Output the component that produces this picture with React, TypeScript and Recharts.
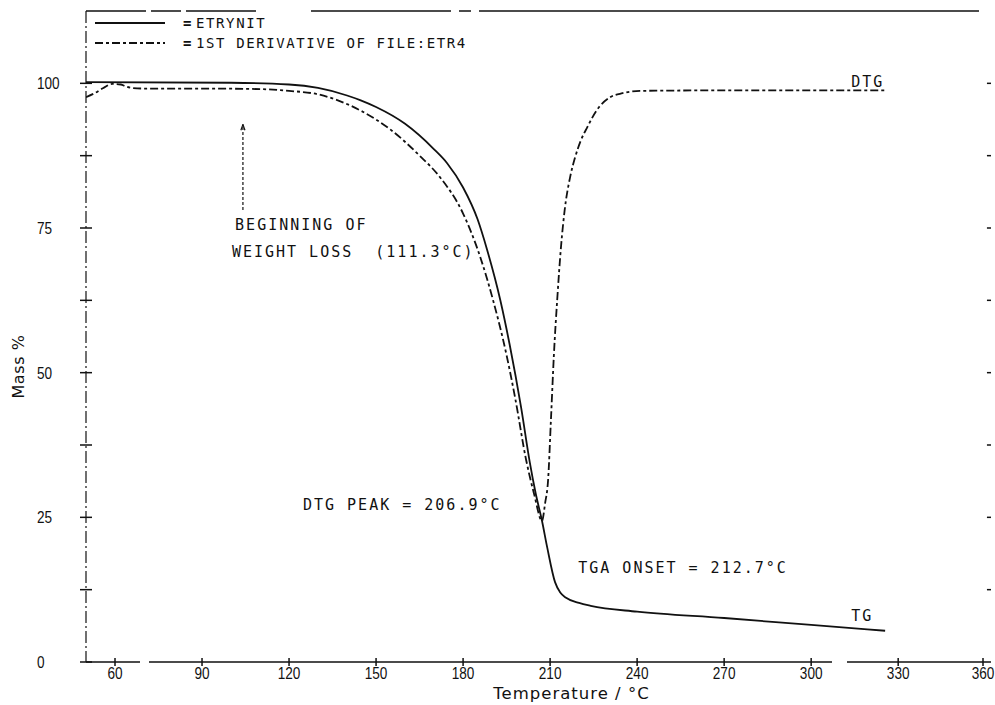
import React from 'react';
import { ComposedChart, Line, Scatter, XAxis, YAxis, ReferenceLine, Legend } from 'recharts';

// TG curve (solid) — temperature (°C) and mass (%)
const tgTemp = [50, 100, 120, 130, 140, 144.5, 150, 160, 170, 174.5, 180, 185, 188.3, 192.8, 196, 200, 203, 205, 207.2, 209, 211.7, 213.5, 215.5, 220, 224, 240, 270, 300, 325.5];
const tgMass = [100.2, 100.1, 99.8, 99.2, 97.9, 97.1, 95.9, 93.0, 88.6, 86.2, 82.0, 76.5, 71.2, 62.6, 55.0, 44.0, 34.5, 29.2, 24.4, 19.8, 13.8, 12.0, 11.1, 10.2, 9.7, 8.7, 7.6, 6.4, 5.4];

// DTG curve (dash-dot) — temperature (°C) and plotted value
const dtgTemp = [50, 53, 56, 59, 62, 64, 66, 70, 90, 110, 120, 130, 136.6, 145, 155, 165, 172, 180, 185.9, 190.3, 195, 198, 201.7, 204.5, 207.2, 208.3, 209.3, 210.3, 211.3, 212.5, 213.8, 215, 216.9, 218.5, 220.5, 222.8, 226, 230.7, 235, 241, 280, 325.5];
const dtgMass = [97.6, 98.3, 99.2, 99.9, 99.8, 99.4, 99.2, 99.1, 99.1, 99.0, 98.7, 98.1, 97.1, 95.2, 92.0, 87.5, 83.8, 77.5, 70.0, 62.6, 53.0, 45.5, 35.0, 29.0, 24.4, 27.5, 31.4, 42.0, 53.0, 63.0, 72.0, 78.0, 83.8, 87.0, 90.0, 92.4, 95.3, 97.6, 98.3, 98.7, 98.8, 98.8];

const seriesNames = ['ETRYNIT', '1ST DERIVATIVE OF FILE:ETR4'];
const seriesDash: (string | undefined)[] = [undefined, '8 3 3 3'];

const xTicks = [60, 90, 120, 150, 180, 210, 240, 270, 300, 330, 360];
const yTicks = [0, 12.5, 25, 37.5, 50, 62.5, 75, 87.5, 100];
const yLabelled = [0, 25, 50, 75, 100];
const rightTicks = [12.5, 25, 37.5, 50, 62.5, 75, 87.5, 100];

// annotations: text, anchor temperature, anchor value (text start / baseline)
const noteText = ['BEGINNING OF', 'WEIGHT LOSS  (111.3°C)', 'DTG PEAK = 206.9°C', 'TGA ONSET = 212.7°C', 'DTG', 'TG'];
const noteTemp = [101.4, 100.3, 124.8, 219.7, 313.8, 313.8];
const noteMass = [74.6, 70.0, 26.2, 15.3, 99.4, 7.0];

// arrow of "beginning of weight loss"
const arrowTemp = 104.1;
const arrowFrom = 78.1;
const arrowTo = 92.9;

const tgData = tgTemp.map((t, i) => ({ t, v: tgMass[i] }));
const dtgData = dtgTemp.map((t, i) => ({ t, v: dtgMass[i] }));
const notes = noteText.map((label, i) => ({ t: noteTemp[i], v: noteMass[i], label }));

const INK = '#111';
const MONO = "'DejaVu Sans Mono', monospace";
const NUMFONT = "'Liberation Sans', Arial, sans-serif";

const XTick = (props: any) => {
  const { x, y, payload } = props;
  return (
    <g>
      <line x1={x} x2={x} y1={y - 4} y2={y + 4} stroke={INK} strokeWidth={1.5} />
      <text
        transform={`translate(${x},${y + 17}) scale(0.8,1)`}
        textAnchor="middle"
        fontFamily={NUMFONT}
        fontSize={17}
        fill={INK}
      >
        {payload.value}
      </text>
    </g>
  );
};

const YTick = (props: any) => {
  const { x, y, payload } = props;
  const show = yLabelled.includes(payload.value);
  return (
    <g>
      <line x1={x - 6} x2={x + 6} y1={y} y2={y} stroke={INK} strokeWidth={1.5} />
      {show && (
        <text
          transform={`translate(${x - 49},${y + 6}) scale(0.8,1)`}
          textAnchor="start"
          fontFamily={NUMFONT}
          fontSize={17}
          fill={INK}
        >
          {payload.value}
        </text>
      )}
    </g>
  );
};

const NoteShape = (props: any) => {
  const { cx, cy, payload } = props;
  return (
    <text
      x={cx}
      y={cy}
      fontFamily={MONO}
      fontSize={15}
      fill={INK}
      style={{ letterSpacing: '2px', whiteSpace: 'pre' }}
    >
      {payload.label}
    </text>
  );
};

const MassLabel = (props: any) => {
  const vb = props.viewBox;
  return (
    <text
      transform={`translate(${vb.x + 24},${vb.y + vb.height / 2 + 30}) rotate(-90)`}
      textAnchor="middle"
      fontFamily="'DejaVu Sans', sans-serif"
      fontSize={16}
      fill={INK}
      style={{ letterSpacing: '0.6px' }}
    >
      Mass %
    </text>
  );
};

const TempLabel = (props: any) => {
  const vb = props.viewBox;
  return (
    <text
      x={vb.x + vb.width / 2 + 33}
      y={vb.y + 37}
      textAnchor="middle"
      fontFamily="'DejaVu Sans', sans-serif"
      fontSize={16.5}
      fill={INK}
      style={{ letterSpacing: '1px' }}
    >
      Temperature / °C
    </text>
  );
};

const renderLegend = (props: any) => {
  const payload = props.payload || [];
  const rows = seriesNames
    .map((name, i) => ({ name, dash: seriesDash[i], entry: payload.find((p: any) => p.value === name) }))
    .filter((r) => r.entry);
  return (
    <div style={{ fontFamily: MONO, fontSize: 14, letterSpacing: '1.6px', color: INK }}>
      {rows.map((r) => (
        <div key={r.name} style={{ display: 'flex', alignItems: 'center', height: 20 }}>
          <svg width={70} height={20} style={{ display: 'block' }}>
            <line x1={0} x2={70} y1={10} y2={10} stroke={INK} strokeWidth={1.8} strokeDasharray={r.dash} />
          </svg>
          <span style={{ marginLeft: 18, lineHeight: '20px', fontWeight: 'bold' }}>=</span>
          <span style={{ marginLeft: 3, whiteSpace: 'pre', lineHeight: '20px' }}>{r.name}</span>
        </div>
      ))}
    </div>
  );
};

export default function App() {
  return (
    <div style={{ position: 'absolute', left: 0, top: 0, width: 995, height: 705, background: '#fff' }}>
      <ComposedChart width={995} height={705} margin={{ top: 11, right: 4, bottom: 0, left: 0 }}>
        <XAxis
          type="number"
          dataKey="t"
          domain={[50, 362]}
          ticks={xTicks}
          allowDataOverflow
          height={43}
          tickSize={0}
          tickMargin={0}
          tickLine={false}
          tick={<XTick />}
          axisLine={{ stroke: INK, strokeWidth: 1.6, strokeDasharray: '54 9 683 15 400' }}
          label={TempLabel}
        />
        <YAxis
          type="number"
          dataKey="v"
          domain={[0, 112.5]}
          ticks={yTicks}
          allowDataOverflow
          width={86}
          tickSize={0}
          tickMargin={0}
          tickLine={false}
          tick={<YTick />}
          axisLine={{ stroke: INK, strokeWidth: 1.2, strokeDasharray: '12 3 2 3' }}
          label={MassLabel}
        />
        <ReferenceLine y={112.5} stroke={INK} strokeWidth={1.4} strokeDasharray="60 5 30 5 70 55 140 8 12 8 500" />
        {rightTicks.map((v) => (
          <ReferenceLine
            key={`rt-${v}`}
            segment={[{ x: 360.6, y: v }, { x: 362, y: v }]}
            stroke={INK}
            strokeWidth={1.5}
          />
        ))}
        <ReferenceLine
          segment={[{ x: arrowTemp, y: arrowFrom }, { x: arrowTemp, y: arrowTo }]}
          stroke={INK}
          strokeWidth={1.2}
          strokeDasharray="3 2"
        />
        <ReferenceLine
          segment={[{ x: arrowTemp - 0.7, y: arrowTo - 1 }, { x: arrowTemp, y: arrowTo }]}
          stroke={INK}
          strokeWidth={1.2}
        />
        <ReferenceLine
          segment={[{ x: arrowTemp + 0.7, y: arrowTo - 1 }, { x: arrowTemp, y: arrowTo }]}
          stroke={INK}
          strokeWidth={1.2}
        />
        <Line
          data={tgData}
          dataKey="v"
          name={seriesNames[0]}
          type="monotone"
          stroke={INK}
          strokeWidth={1.8}
          dot={false}
          activeDot={false}
          isAnimationActive={false}
        />
        <Line
          data={dtgData}
          dataKey="v"
          name={seriesNames[1]}
          type="monotone"
          stroke={INK}
          strokeWidth={1.8}
          strokeDasharray={seriesDash[1]}
          dot={false}
          activeDot={false}
          isAnimationActive={false}
        />
        <Scatter
          data={notes}
          dataKey="v"
          name="notes"
          legendType="none"
          shape={NoteShape}
          isAnimationActive={false}
        />
        <Legend
          layout="horizontal"
          align="center"
          verticalAlign="middle"
          content={renderLegend}
          wrapperStyle={{ top: 13, left: 95, width: 'auto', height: 'auto' }}
        />
      </ComposedChart>
    </div>
  );
}
